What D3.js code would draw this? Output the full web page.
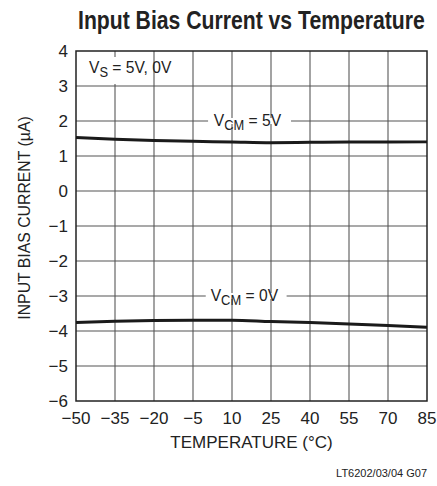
<!DOCTYPE html>
<html>
<head>
<meta charset="utf-8">
<script src="https://cdn.jsdelivr.net/npm/d3@7"></script>
<style>
  body { margin: 0; background: #fff; }
  text { font-family: "Liberation Sans", Arial, sans-serif; fill: #222; }
</style>
</head>
<body>
<div id="chart"></div>
<script>
// data
var temps = [-50, -35, -20, -5, 10, 25, 40, 55, 70, 85];
var vcm5 = [1.53, 1.48, 1.44, 1.42, 1.40, 1.38, 1.39, 1.40, 1.40, 1.41];
var vcm0 = [-3.76, -3.72, -3.70, -3.69, -3.69, -3.73, -3.76, -3.80, -3.84, -3.89];
var xTicks = [-50, -35, -20, -5, 10, 25, 40, 55, 70, 85];
var yTicks = [-6, -5, -4, -3, -2, -1, 0, 1, 2, 3, 4];

var W = 437, H = 486;
var margin = {top: 51, left: 76},
  width = 427 - margin.left,
  height = 401 - margin.top;

var svg = d3.select("#chart").append("svg")
  .attr("width", W).attr("height", H);

var g = svg.append("g")
  .attr("transform", "translate(" + margin.left + "," + margin.top + ")");

var x = d3.scaleLinear().domain([-50, 85]).range([0, width]);
var y = d3.scaleLinear().domain([-6, 4]).range([height, 0]);

function fmt(v) { return String(v).replace("-", "\u2212"); }

// grid
g.append("g").selectAll("line")
  .data(xTicks.slice(1, -1)).enter().append("line")
  .attr("x1", function(d) { return x(d); }).attr("x2", function(d) { return x(d); })
  .attr("y1", 0).attr("y2", height)
  .attr("stroke", "#666").attr("stroke-width", 1.2);

g.append("g").selectAll("line")
  .data(yTicks.slice(1, -1)).enter().append("line")
  .attr("x1", 0).attr("x2", width)
  .attr("y1", function(d) { return y(d); }).attr("y2", function(d) { return y(d); })
  .attr("stroke", "#555").attr("stroke-width", 1.2);

// white gaps behind the labels
g.append("rect").attr("x", 1).attr("y", 6).attr("width", 76).attr("height", 27).attr("fill", "#fff");
g.append("rect").attr("x", x(0.8)).attr("y", y(2) - 3).attr("width", x(32.7) - x(0.8)).attr("height", 6).attr("fill", "#fff");
g.append("rect").attr("x", x(-0.1)).attr("y", y(-3) - 3).attr("width", x(31) - x(-0.1)).attr("height", 6).attr("fill", "#fff");

// frame
g.append("rect").attr("width", width).attr("height", height)
  .attr("fill", "none").attr("stroke", "#222").attr("stroke-width", 1.5);

// curves
var line = d3.line()
  .x(function(d) { return x(d[0]); })
  .y(function(d) { return y(d[1]); })
  .curve(d3.curveMonotoneX);

[vcm5, vcm0].forEach(function(s) {
  g.append("path")
    .datum(temps.map(function(t, i) { return [t, s[i]]; }))
    .attr("d", line)
    .attr("fill", "none").attr("stroke", "#1a1a1a").attr("stroke-width", 3);
});

// tick labels
g.append("g").selectAll("text")
  .data(xTicks).enter().append("text")
  .attr("x", function(d) { return x(d); }).attr("y", height + 23)
  .attr("text-anchor", "middle").attr("font-size", 17)
  .text(fmt);

g.append("g").selectAll("text")
  .data(yTicks).enter().append("text")
  .attr("x", -8).attr("y", function(d) { return y(d) + 6; })
  .attr("text-anchor", "end").attr("font-size", 17)
  .text(fmt);

// series labels
function vlabel(px, py, sub, rest) {
  var t = g.append("text")
    .attr("transform", "translate(" + px + "," + py + ") scale(0.92,1)")
    .attr("font-size", 17);
  t.append("tspan").text("V");
  t.append("tspan").attr("dy", 4).attr("font-size", 14).text(sub);
  t.append("tspan").attr("dy", -4).text(rest);
}
vlabel(13, 22, "S", " = 5V, 0V");
vlabel(x(3), y(2) + 5, "CM", " = 5V");
vlabel(x(1.8), y(-3) + 5, "CM", " = 0V");

// title, squeezed to the reference's width
var title = svg.append("text")
  .attr("font-size", 25).attr("font-weight", "bold")
  .text("Input Bias Current vs Temperature");
var tw = title.node().getComputedTextLength();
title.attr("transform", "translate(78,29) scale(" + (347 / tw) + ",1)");

svg.append("text")
  .attr("x", margin.left + width / 2).attr("y", 448)
  .attr("text-anchor", "middle").attr("font-size", 17)
  .text("TEMPERATURE (\u00B0C)");

svg.append("text")
  .attr("transform", "translate(30," + (margin.top + height / 2 - 8) + ") rotate(-90) scale(0.93,1)")
  .attr("text-anchor", "middle").attr("font-size", 17)
  .text("INPUT BIAS CURRENT (\u00B5A)");

svg.append("text")
  .attr("x", 427).attr("y", 477)
  .attr("text-anchor", "end").attr("font-size", 11)
  .text("LT6202/03/04 G07");
</script>
</body>
</html>
